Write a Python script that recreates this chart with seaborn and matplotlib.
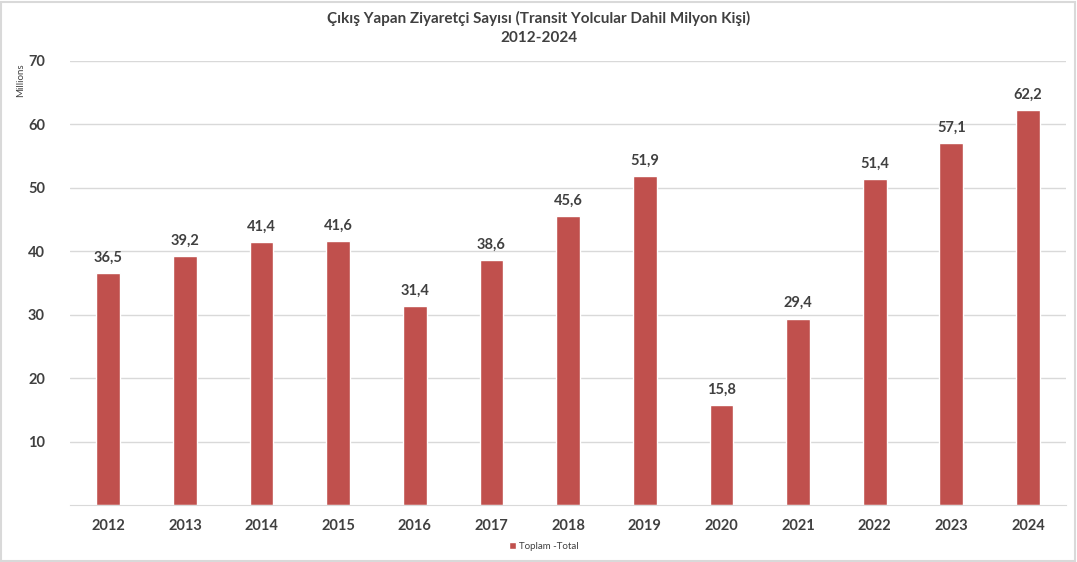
import matplotlib
matplotlib.use("Agg")
import matplotlib.pyplot as plt
import seaborn as sns
import pandas as pd
from matplotlib.patches import Rectangle

years = ["2012", "2013", "2014", "2015", "2016", "2017", "2018",
         "2019", "2020", "2021", "2022", "2023", "2024"]
visitors = [36.5, 39.2, 41.4, 41.6, 31.4, 38.6, 45.6,
            51.9, 15.8, 29.4, 51.4, 57.1, 62.2]
y_ticks = [10, 20, 30, 40, 50, 60, 70]

sns.set_style("white")
plt.rcParams['font.family'] = ['Lato', 'DejaVu Sans']

BAR = "#C0504D"
TXT = "#404040"

df = pd.DataFrame({"year": years, "value": visitors})

fig = plt.figure(figsize=(10.77, 5.62), dpi=100)
ax = fig.add_axes([0.065, 0.1014, 0.925, 0.7901])

sns.barplot(data=df, x="year", y="value", color=BAR, width=0.31,
            saturation=1, ax=ax, label="Toplam -Total")

ax.set_ylim(0, 70)
ax.set_xlim(-0.5, len(years) - 0.5)
ax.set_yticks(y_ticks)
ax.yaxis.grid(True, color="#D9D9D9", linewidth=1)
ax.set_axisbelow(True)
for s in ["top", "right", "left"]:
    ax.spines[s].set_visible(False)
ax.spines["bottom"].set_color("#D9D9D9")
ax.tick_params(axis="both", length=0, colors=TXT, labelsize=10.5)
for lab in ax.get_xticklabels() + ax.get_yticklabels():
    lab.set_fontweight("bold")
ax.tick_params(axis="x", pad=10)
ax.tick_params(axis="y", pad=18)
ax.set_xlabel("")
ax.set_ylabel("")

for i, v in enumerate(visitors):
    ax.text(i, v + 1.3, f"{v:.1f}".replace(".", ","), ha="center", va="bottom",
            fontsize=10.5, fontweight="bold", color=TXT)

fig.text(0.5, 0.968, "Çıkış Yapan Ziyaretçi Sayısı (Transit Yolcular Dahil Milyon Kişi)",
         ha="center", va="center", fontsize=11, fontweight="bold", color=TXT)
fig.text(0.5, 0.932, "2012-2024", ha="center", va="center", fontsize=11,
         fontweight="bold", color=TXT)
fig.text(0.019, 0.857, "Millions", rotation=90, ha="center", va="center",
         fontsize=7, color=TXT)

ax.legend(loc="center", frameon=False, fontsize=7, handlelength=0.7,
          handleheight=0.7, handletextpad=0.3, labelcolor=TXT)
leg = ax.get_legend()
leg.set_bbox_to_anchor((0.505, 0.028), transform=fig.transFigure)

fig.patches.append(Rectangle((0.001, 0.002), 0.997, 0.995, transform=fig.transFigure,
                             fill=False, edgecolor="#D9D9D9", linewidth=1.5))

fig.savefig("out.png", dpi=100, facecolor="white")
